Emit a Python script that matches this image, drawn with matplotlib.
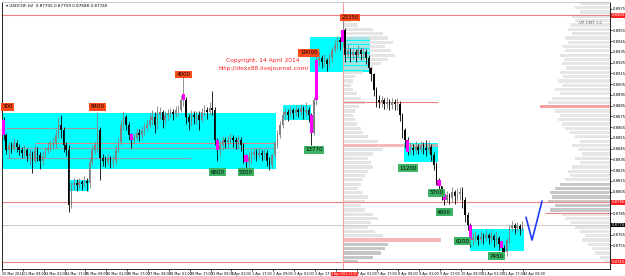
import numpy as np
import matplotlib.pyplot as plt

# USDCHF H2, prices in pips (x 0.0001)
first_open = 8872
closes = [8858, 8844, 8848, 8846, 8850, 8847, 8844, 8841, 8844, 8838,
          8841, 8834, 8844, 8839, 8834, 8838, 8844, 8846, 8848, 8850,
          8858, 8867, 8862, 8848, 8844, 8793, 8811, 8813, 8811, 8814,
          8812, 8815, 8813, 8833, 8844, 8848, 8862, 8836, 8834, 8833,
          8836, 8833, 8834, 8844, 8851, 8867, 8874, 8867, 8858, 8853,
          8855, 8860, 8858, 8862, 8864, 8867, 8872, 8874, 8867, 8876,
          8879, 8872, 8876, 8878, 8879, 8877, 8881, 8881, 8890, 8890,
          8874, 8870, 8876, 8874, 8876, 8872, 8879, 8881, 8879, 8883,
          8881, 8853, 8844, 8848, 8853, 8851, 8853, 8855, 8853, 8851,
          8853, 8848, 8836, 8833, 8837, 8839, 8842, 8839, 8841, 8839,
          8841, 8834, 8830, 8839, 8850, 8858, 8867, 8876, 8879, 8876,
          8881, 8878, 8881, 8879, 8883, 8879, 8881, 8876, 8860, 8890,
          8927, 8929, 8926, 8927, 8924, 8929, 8937, 8941, 8946, 8944,
          8955, 8932, 8937, 8932, 8935, 8932, 8937, 8933, 8935, 8929,
          8920, 8914, 8900, 8890, 8888, 8890, 8887, 8888, 8886, 8888,
          8887, 8887, 8876, 8862, 8853, 8842, 8846, 8844, 8847, 8844,
          8848, 8846, 8844, 8847, 8839, 8830, 8816, 8810, 8802, 8797,
          8802, 8799, 8805, 8801, 8803, 8805, 8797, 8783, 8774, 8760,
          8762, 8764, 8760, 8763, 8762, 8765, 8762, 8764, 8760, 8762,
          8756, 8753, 8749, 8760, 8771, 8774, 8771, 8773, 8770, 8774]
highs = [8874, 8860, 8852, 8851, 8855, 8853, 8849, 8847, 8848, 8846,
         8845, 8843, 8848, 8847, 8842, 8843, 8847, 8851, 8853, 8855,
         8863, 8874, 8876, 8865, 8851, 8848, 8814, 8818, 8817, 8818,
         8816, 8820, 8818, 8836, 8848, 8852, 8878, 8865, 8840, 8838,
         8840, 8838, 8839, 8848, 8855, 8872, 8879, 8876, 8870, 8860,
         8860, 8864, 8863, 8866, 8869, 8872, 8878, 8881, 8879, 8885,
         8884, 8881, 8880, 8882, 8883, 8882, 8885, 8886, 8895, 8912,
         8893, 8877, 8881, 8880, 8880, 8880, 8883, 8886, 8884, 8888,
         8899, 8884, 8855, 8852, 8857, 8856, 8857, 8860, 8858, 8856,
         8858, 8856, 8850, 8840, 8842, 8844, 8846, 8845, 8846, 8844,
         8845, 8844, 8837, 8841, 8853, 8862, 8871, 8880, 8884, 8882,
         8885, 8883, 8886, 8883, 8887, 8885, 8888, 8884, 8878, 8893,
         8934, 8936, 8932, 8933, 8929, 8933, 8940, 8946, 8950, 8949,
         8965, 8957, 8942, 8939, 8940, 8938, 8941, 8939, 8940, 8938,
         8932, 8921, 8915, 8902, 8895, 8894, 8892, 8893, 8891, 8892,
         8891, 8892, 8889, 8878, 8864, 8856, 8851, 8849, 8852, 8849,
         8852, 8851, 8853, 8852, 8849, 8842, 8833, 8818, 8810, 8804,
         8806, 8804, 8809, 8807, 8808, 8809, 8809, 8800, 8786, 8776,
         8767, 8768, 8766, 8768, 8767, 8770, 8767, 8769, 8766, 8768,
         8764, 8758, 8755, 8762, 8774, 8778, 8776, 8777, 8775, 8778]
lows = [8853, 8840, 8836, 8841, 8843, 8842, 8839, 8836, 8837, 8834,
        8830, 8822, 8832, 8834, 8826, 8830, 8836, 8841, 8843, 8845,
        8846, 8855, 8855, 8842, 8838, 8786, 8790, 8807, 8806, 8808,
        8807, 8809, 8806, 8808, 8830, 8840, 8842, 8816, 8829, 8828,
        8830, 8827, 8828, 8831, 8842, 8848, 8862, 8862, 8853, 8846,
        8849, 8853, 8852, 8854, 8858, 8861, 8865, 8867, 8860, 8863,
        8872, 8864, 8868, 8872, 8874, 8872, 8874, 8876, 8879, 8885,
        8868, 8862, 8866, 8868, 8868, 8862, 8870, 8875, 8873, 8876,
        8876, 8848, 8834, 8838, 8844, 8846, 8846, 8849, 8847, 8845,
        8846, 8843, 8832, 8826, 8828, 8832, 8835, 8834, 8836, 8834,
        8835, 8829, 8825, 8827, 8836, 8846, 8855, 8864, 8872, 8871,
        8874, 8873, 8875, 8874, 8876, 8873, 8875, 8870, 8848, 8858,
        8886, 8922, 8920, 8921, 8917, 8921, 8926, 8935, 8938, 8937,
        8940, 8926, 8929, 8926, 8928, 8926, 8929, 8927, 8928, 8924,
        8915, 8908, 8894, 8884, 8883, 8884, 8882, 8883, 8881, 8882,
        8881, 8881, 8871, 8855, 8846, 8839, 8840, 8839, 8841, 8840,
        8842, 8840, 8838, 8841, 8834, 8825, 8811, 8806, 8797, 8793,
        8795, 8794, 8795, 8794, 8796, 8797, 8790, 8777, 8769, 8754,
        8755, 8758, 8755, 8757, 8756, 8759, 8756, 8758, 8754, 8755,
        8751, 8748, 8743, 8745, 8757, 8768, 8766, 8768, 8765, 8768]
magenta_bars = [0, 49, 69, 82, 93, 118, 120, 130, 155, 167, 169, 179, 191]

time_labels = ["20 Mar 2014", "21 Mar 09:00", "24 Mar 01:00", "24 Mar 17:00", "25 Mar 09:00",
               "26 Mar 01:00", "26 Mar 17:00", "27 Mar 09:00", "28 Mar 01:00", "28 Mar 17:00",
               "31 Mar 09:00", "1 Apr 01:00", "1 Apr 17:00", "2 Apr 09:00", "3 Apr 01:00",
               "3 Apr 17:00", "", "7 Apr 01:00", "7 Apr 17:00", "8 Apr 09:00",
               "9 Apr 01:00", "9 Apr 17:00", "10 Apr 09:00", "11 Apr 01:00", "11 Apr 17:00",
               "14 Apr 09:00"]

# boxes: bar from, bar to, price top, price bottom
boxes = [(-0.4, 104.6, 8878, 8826), (25, 32.6, 8816, 8806), (107.3, 118, 8886, 8872),
         (117.6, 140.6, 8949, 8916), (153.6, 166.7, 8850, 8833), (178.9, 199.6, 8770, 8750)]

# markers: bar, price, text
red_tags = [(1.5, 8884, "300"), (36, 8884, "8400"), (69, 8914, "4000"),
            (117, 8934, "19000"), (133, 8967, "23350")]
green_tags = [(82, 8823, "6600"), (93, 8823, "5300"), (119, 8844, "13770"), (155, 8827, "11200"),
              (166, 8804, "5700"), (169, 8786, "4950"), (176, 8759, "6100"), (189, 8745, "7450")]

# horizontal levels tagged on the price scale
tagged = [(8969, '#ff2020'), (8795, '#ff2020'), (8740, '#ff2020'), (8774, 'black')]

# volume profiles
vp_levels = [8980, 8976, 8972, 8968, 8964, 8960, 8956, 8952, 8948, 8944, 8940, 8936, 8932,
             8928, 8924, 8920, 8916, 8912, 8908, 8904, 8900, 8896, 8892, 8888, 8884, 8880,
             8876, 8872, 8868, 8864, 8860, 8856, 8852, 8848, 8844, 8840, 8836, 8832, 8828,
             8824, 8820, 8816, 8812, 8808, 8804, 8800, 8796, 8792, 8788, 8784, 8780, 8776,
             8772, 8768, 8764, 8760, 8756, 8752, 8748, 8744, 8740]
vp_right = [30, 35, 30, 38, 35, 40, 42, 38, 45, 42, 48, 45, 50, 46, 48, 44, 50, 47, 52, 48,
            55, 50, 58, 62, 70, 55, 50, 52, 48, 45, 40, 35, 30, 38, 32, 28, 35, 30, 38, 42,
            40, 45, 50, 55, 60, 58, 62, 55, 60, 48, 45, 40, 35, 30, 25, 28, 22, 18, 15, 10, 6]
vp_left = [0, 0, 0, 3, 8, 15, 30, 40, 45, 50, 42, 48, 52, 45, 38, 30, 20, 12, 10, 8,
           10, 14, 18, 22, 16, 12, 10, 12, 14, 18, 20, 25, 35, 95, 40, 30, 25, 28, 30, 25,
           22, 20, 18, 15, 20, 25, 22, 18, 22, 30, 35, 28, 25, 32, 40, 98, 45, 42, 38, 30, 15]

P = 1e-4
n = len(closes)
opens = [first_open] + closes[:-1]
idx = np.arange(n)
o = np.array(opens) * P
c = np.array(closes) * P
h = np.array(highs) * P
l = np.array(lows) * P

fig = plt.figure(figsize=(6.25, 2.76), dpi=100)
ax = fig.add_axes([2 / 625, 7 / 276, 608 / 625, 267 / 276])
x0, x1 = -0.4, 232.6
ax.set_xlim(x0, x1)
ax.set_ylim(0.87331, 0.89814)

for b in boxes:
    ax.fill_between([b[0], b[1]], b[3] * P, b[2] * P, color='#00ffff', lw=0, zorder=1)

# level lines inside the big box
ax.hlines([8864 * P, 8846 * P, 8836 * P], [1, 1, 1], [36, 104, 72], color='#9a9a9a', lw=0.7, zorder=2)
ax.hlines(8850 * P, 12, 104, color='#f08080', lw=0.7, zorder=2)

# profiles
px = 1 / 2.61
lv = np.array(vp_levels) * P
colL = ['#b4b4b4' if v <= 8756 else '#dcdcdc' for v in vp_levels]
colL = ['#f4a0a0' if v in (8848, 8760) else cc for v, cc in zip(vp_levels, colL)]
ax.barh(lv, np.array(vp_left) * px, left=130.3, height=3.0 * P, color=colL, alpha=0.75, lw=0, zorder=2)
colR = ['#c8c8c8' if 8788 <= v <= 8812 else '#e6e6e6' for v in vp_levels]
colR = ['#f4a0a0' if v == 8884 else cc for v, cc in zip(vp_levels, colR)]
wr = np.array(vp_right) * px
ax.barh(lv, wr, left=x1 - wr, height=3.0 * P, color=colR, lw=0, zorder=2)

# horizontal lines
for p, fc in tagged:
    if fc == 'black':
        ax.axhline(p * P, color='#c8c8c8', lw=0.7, zorder=2)
    else:
        ax.axhline(p * P, color='#f08080', lw=0.8, zorder=2)
ax.hlines(8888 * P, 130.3, 166.5, color='#f08080', lw=0.8, zorder=2)
ax.hlines(8785 * P, 207.7, x1, color='#f08080', lw=0.8, zorder=2)
ax.axvline(130.3, color='#f4a0a0', lw=0.8, zorder=2)

# candles
up = c >= o
ax.vlines(idx, l, h, color=np.where(up, '#808080', 'black'), lw=0.6, zorder=3)
body_lo = np.minimum(o, c)
body_h = np.maximum(np.abs(c - o), 0.6 * P)
ax.bar(idx, body_h, bottom=body_lo, width=0.55, color=np.where(up, '#808080', 'black'), lw=0, zorder=3)
m = np.array(magenta_bars)
ax.bar(m, np.maximum(np.abs(c[m] - o[m]), 6 * P), bottom=np.minimum(o[m], c[m]), width=1.2,
       color='#ff00ff', lw=0, zorder=4)

# forecast line
ax.plot([200.4, 202.7, 206.5], [8781 * P, 8760 * P, 8796 * P], color='#1e3cff', lw=1.2, zorder=4)

for b, p, t in red_tags:
    ax.text(b, p * P, t, fontsize=4.0, ha='center', va='center', color='black', zorder=6,
            bbox=dict(boxstyle='square,pad=0.25', fc='#ff4a1a', ec='none'))
for b, p, t in green_tags:
    ax.text(b, p * P, t, fontsize=4.0, ha='center', va='center', color='black', zorder=6,
            bbox=dict(boxstyle='square,pad=0.25', fc='#3cb464', ec='none'))

ax.text(99.3, 0.89269, "Copyright, 14 April 2014", fontsize=4.3, color='#ff2020', ha='center', va='center')
ax.text(99.8, 0.89193, "http://dexx88.livejournal.com/", fontsize=4.3, color='#ff2020', ha='center', va='center')
ax.text(1.0, 0.89775, "\u25be USDCHF,H2  0.87705 0.87759 0.87688 0.87740", fontsize=3.0, color='black', va='center')
ax.text(225, 0.89620, "VP CMT +2", fontsize=3.0, color='#606060', ha='center', va='center')

# axes
ax.yaxis.tick_right()
yt = [v for v in range(8735, 8980, 10) if all(abs(v - p) > 5 for p, _ in tagged)]
ax.set_yticks(np.array(yt) * P)
ax.set_yticklabels(['%.4f' % (v * P) for v in yt])
ax.tick_params(axis='y', labelsize=2.7, length=1.5, width=0.5, pad=0.8)
ax.set_xticks(np.arange(len(time_labels)) * 8 - 0.6)
ax.set_xticklabels(time_labels, ha='left')
ax.tick_params(axis='x', labelsize=2.4, length=1.5, width=0.5, pad=1)
for sp in ax.spines.values():
    sp.set_linewidth(0.6)
ax.spines['top'].set_color('#c0c0c0')

ytr = ax.get_yaxis_transform()
for p, fc in tagged:
    ax.text(1.003, p * P, '%.4f' % (p * P), transform=ytr, fontsize=2.7, color='white', va='center',
            ha='left', bbox=dict(boxstyle='square,pad=0.1', fc=fc, ec='none'), clip_on=False, zorder=7)
xtr = ax.get_xaxis_transform()
ax.text(130.8, -0.01, "4 Apr 2014 13:00", transform=xtr, fontsize=2.2, color='white', ha='center', va='top',
        bbox=dict(boxstyle='square,pad=0.05', fc='#ff2020', ec='none'), clip_on=False, zorder=7)

fig.savefig('out.png', dpi=100)
